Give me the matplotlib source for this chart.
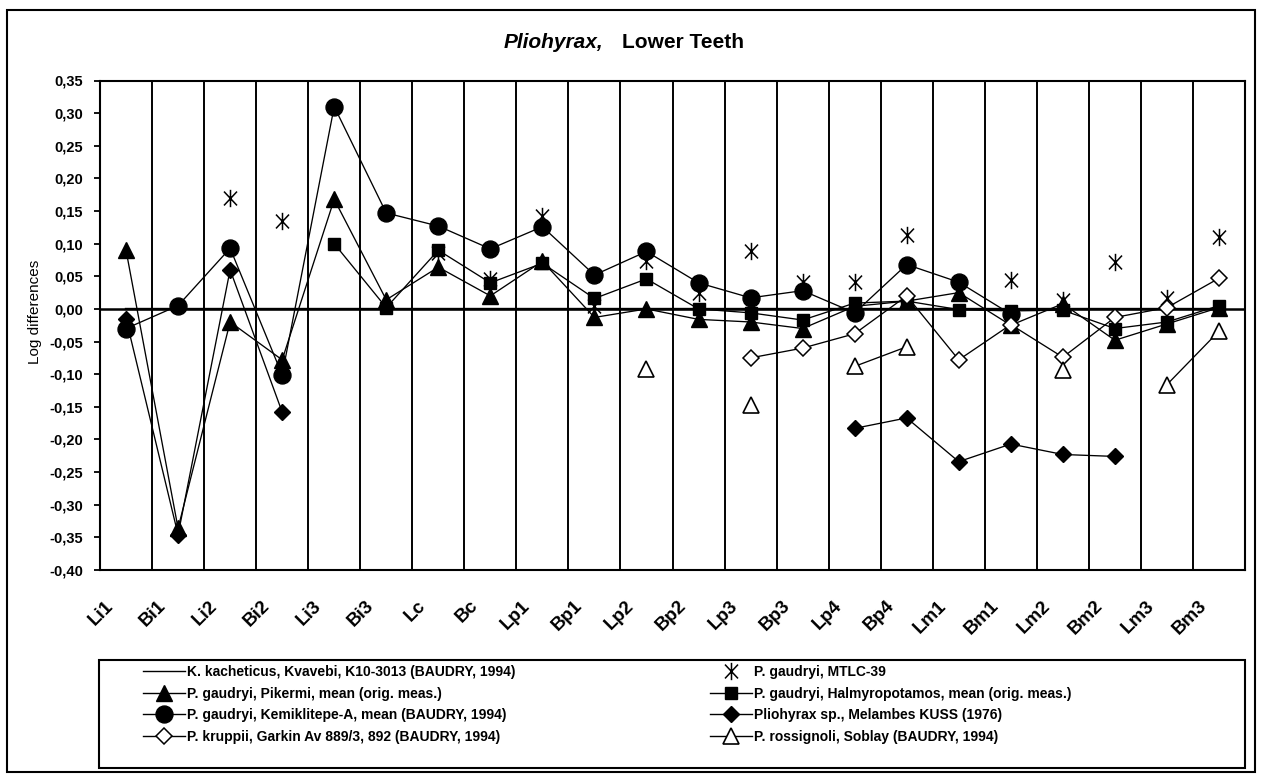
import numpy as np
import matplotlib
matplotlib.use("Agg")
import matplotlib.pyplot as plt
from matplotlib.path import Path
from matplotlib.patches import Rectangle
import matplotlib.transforms as mtransforms

plt.rcParams['font.family'] = ['Liberation Sans', 'DejaVu Sans']

nan = np.nan
categories = ["Li1", "Bi1", "Li2", "Bi2", "Li3", "Bi3", "Lc", "Bc", "Lp1", "Bp1", "Lp2",
              "Bp2", "Lp3", "Bp3", "Lp4", "Bp4", "Lm1", "Bm1", "Lm2", "Bm2", "Lm3", "Bm3"]

kacheticus = [0, 0, 0, 0, 0, 0, 0, 0, 0, 0, 0, 0, 0, 0, 0, 0, 0, 0, 0, 0, 0, 0]
mtlc39 = [nan, nan, 0.170, 0.134, nan, nan, 0.086, 0.046, 0.143, 0.004, 0.073, 0.025,
          0.089, 0.041, 0.041, 0.113, nan, 0.044, 0.013, 0.072, 0.016, 0.110]
pikermi = [0.090, -0.336, -0.020, -0.078, 0.168, 0.014, 0.064, 0.020, 0.073, -0.013, 0.000,
           -0.016, -0.020, -0.030, 0.004, 0.012, 0.025, -0.025, 0.008, -0.048, -0.023, 0.002]
halmyropotamos = [nan, nan, nan, nan, 0.100, 0.002, 0.090, 0.040, 0.070, 0.016, 0.046, 0.000,
                  -0.006, -0.017, 0.009, 0.012, -0.001, -0.003, -0.002, -0.030, -0.020, 0.005]
kemiklitepe = [-0.030, 0.005, 0.093, -0.101, 0.310, 0.147, 0.127, 0.092, 0.126, 0.052, 0.088,
               0.040, 0.017, 0.028, -0.006, 0.068, 0.041, -0.008, nan, nan, nan, nan]
melambes = [-0.015, -0.346, 0.060, -0.158, nan, nan, nan, nan, nan, nan, nan, nan, nan, nan,
            -0.183, -0.167, -0.234, -0.207, -0.223, -0.226, nan, nan]
kruppii = [nan, nan, nan, nan, nan, nan, nan, nan, nan, nan, nan, nan,
           -0.075, -0.060, -0.038, 0.020, -0.078, -0.024, -0.074, -0.013, 0.002, 0.047]
rossignoli = [nan, nan, nan, nan, nan, nan, nan, nan, nan, nan, -0.092, nan,
              -0.147, nan, -0.088, -0.058, nan, nan, -0.093, nan, -0.116, -0.034]

labels = {
    "kach": "K. kacheticus, Kvavebi, K10-3013 (BAUDRY, 1994)",
    "mtlc": "P. gaudryi, MTLC-39",
    "pik": "P. gaudryi, Pikermi, mean (orig. meas.)",
    "hal": "P. gaudryi, Halmyropotamos, mean (orig. meas.)",
    "kem": "P. gaudryi, Kemiklitepe-A, mean (BAUDRY, 1994)",
    "mel": "Pliohyrax sp., Melambes KUSS (1976)",
    "kru": "P. kruppii, Garkin Av 889/3, 892 (BAUDRY, 1994)",
    "ros": "P. rossignoli, Soblay (BAUDRY, 1994)",
}
y_ticks = [-0.40, -0.35, -0.30, -0.25, -0.20, -0.15, -0.10, -0.05, 0.00,
           0.05, 0.10, 0.15, 0.20, 0.25, 0.30, 0.35]

W, H = 1263, 775
fig = plt.figure(figsize=(W / 100, H / 100), dpi=100)
ax = fig.add_axes([100 / W, 1 - 570 / H, 1145 / W, (570 - 80.5) / H])

x = np.arange(len(categories))

# asterisk marker: vertical bar + X
ast = Path([(0, -1), (0, 1), (-0.75, -0.8), (0.75, 0.8), (-0.75, 0.8), (0.75, -0.8)],
           [Path.MOVETO, Path.LINETO, Path.MOVETO, Path.LINETO, Path.MOVETO, Path.LINETO])

lw = 0.95
h_kach, = ax.plot(x, kacheticus, color='black', lw=1.7, zorder=3)
h_mtlc, = ax.plot(x, mtlc39, ls='none', marker=ast, ms=12.5, mec='black', mew=1.1,
                  color='black', zorder=4)
h_hal, = ax.plot(x, halmyropotamos, color='black', lw=lw, marker='s', ms=9, zorder=5)
h_pik, = ax.plot(x, pikermi, color='black', lw=lw, marker='^', ms=11.5, zorder=5)
h_kem, = ax.plot(x, kemiklitepe, color='black', lw=lw, marker='o', ms=12.2, zorder=6)
h_mel, = ax.plot(x, melambes, color='black', lw=lw, marker='D', ms=8.3, zorder=6)
h_kru, = ax.plot(x, kruppii, color='black', lw=lw, marker='D', ms=8.3, mfc='white',
                 mec='black', mew=1.1, zorder=7)
h_ros, = ax.plot(x, rossignoli, color='black', lw=lw, marker='^', ms=12, mfc='white',
                 mec='black', mew=1.2, zorder=7)

ax.set_xlim(-0.5, len(categories) - 0.5)
ax.set_ylim(-0.40, 0.35)
ax.set_yticks(y_ticks)
ax.set_yticklabels([f"{v:.2f}".replace('.', ',') for v in y_ticks],
                   fontsize=10.5, fontweight='bold')
ax.tick_params(axis='y', length=4, width=1.3, direction='out', pad=8)

ax.set_xticks(x)
ax.set_xticklabels(categories, fontsize=13.5, fontweight='bold', rotation=45,
                   ha='right', va='center', rotation_mode='anchor')
ax.tick_params(axis='x', length=0, pad=24)
offset = mtransforms.ScaledTranslation(-15 / 100, 0, fig.dpi_scale_trans)
for lab in ax.get_xticklabels():
    lab.set_transform(lab.get_transform() + offset)

# category boundary gridlines
ax.set_xticks(np.arange(0.5, len(categories) - 1, 1.0), minor=True)
ax.tick_params(axis='x', which='minor', length=0)
ax.grid(True, which='minor', axis='x', color='black', lw=1.4)
ax.axhline(0, color='black', lw=1.8, zorder=2)
for s in ax.spines.values():
    s.set_linewidth(1.5)

fig.text(35 / W, 1 - 312 / H, "Log differences", rotation=90, ha='center', va='center',
         fontsize=11)
fig.text(603 / W, 1 - 48 / H, "Pliohyrax,", ha='right', va='baseline', fontsize=15,
         fontweight='bold', fontstyle='italic')
fig.text(622 / W, 1 - 48 / H, "Lower Teeth", ha='left', va='baseline', fontsize=15,
         fontweight='bold')

# outer chart frame and legend box
fig.patches.append(Rectangle((7 / W, 3 / H), 1248 / W, 762 / H, transform=fig.transFigure,
                             fill=False, ec='black', lw=1.5))
fig.patches.append(Rectangle((99 / W, 1 - 768 / H), 1146 / W, 108 / H,
                             transform=fig.transFigure, fill=False, ec='black', lw=1.5))

leg_kw = dict(frameon=False, handlelength=3.0, handletextpad=0.15,
              labelspacing=0.55, borderpad=0, borderaxespad=0, loc='upper left',
              prop={'weight': 'bold', 'size': 10})
leg1 = fig.legend([h_kach, h_pik, h_kem, h_kru],
                  [labels['kach'], labels['pik'], labels['kem'], labels['kru']],
                  bbox_to_anchor=(143 / W, 1 - 665 / H), **leg_kw)
leg2 = fig.legend([h_mtlc, h_hal, h_mel, h_ros],
                  [labels['mtlc'], labels['hal'], labels['mel'], labels['ros']],
                  bbox_to_anchor=(710 / W, 1 - 665 / H), **leg_kw)
for leg in (leg1, leg2):
    for hl in leg.legend_handles:
        hl.set_linewidth(1.0)

fig.savefig("out.png", dpi=100)
